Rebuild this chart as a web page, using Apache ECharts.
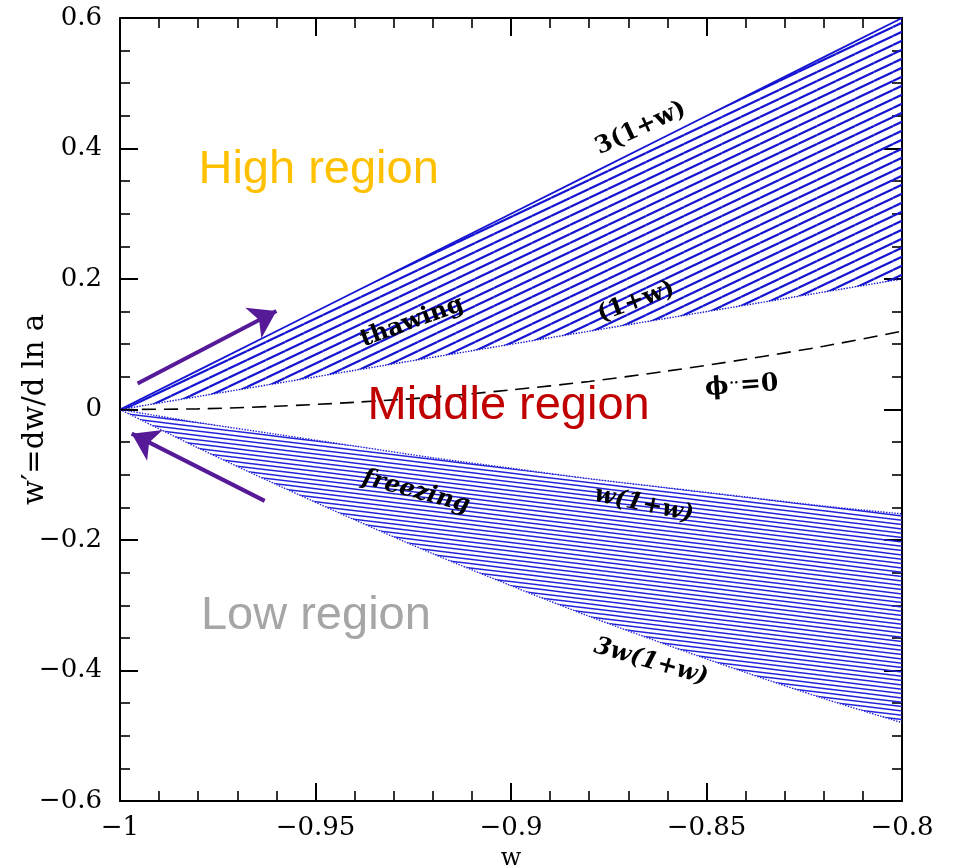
<!DOCTYPE html>
<html>
<head>
<meta charset="utf-8">
<title>Thawing and freezing regions in the w-w' plane</title>
<script src="https://cdn.jsdelivr.net/npm/echarts@6/dist/echarts.min.js"></script>
<style>
  html, body { margin: 0; padding: 0; background: #ffffff; }
  #chart { width: 960px; height: 868px; }
</style>
</head>
<body>
<div id="chart"></div>
<script>
// Sample points along the equation-of-state axis w
const wGrid = [-1, -0.98, -0.96, -0.94, -0.92, -0.90, -0.88, -0.86, -0.84, -0.82, -0.80];

// Thawing band: between (1+w) and 3(1+w)
const thawUpper = [0, 0.06, 0.12, 0.18, 0.24, 0.30, 0.36, 0.42, 0.48, 0.54, 0.60];
const thawLower = [0, 0.02, 0.04, 0.06, 0.08, 0.10, 0.12, 0.14, 0.16, 0.18, 0.20];

// Freezing band: between w(1+w) and 3w(1+w)
const freezeUpper = [0, -0.020, -0.038, -0.056, -0.074, -0.090, -0.106, -0.120, -0.134, -0.148, -0.160];
const freezeLower = [0, -0.059, -0.115, -0.169, -0.221, -0.270, -0.317, -0.361, -0.403, -0.443, -0.480];

// Zero field acceleration curve
const phiZero = [0, 0.001, 0.005, 0.011, 0.019, 0.030, 0.043, 0.059, 0.077, 0.097, 0.120];

// Tick values and their printed labels
const xTicks = [-1, -0.95, -0.9, -0.85, -0.8];
const xTickLabels = ['\u22121', '\u22120.95', '\u22120.9', '\u22120.85', '\u22120.8'];
const yTicks = [-0.6, -0.4, -0.2, 0, 0.2, 0.4, 0.6];
const yTickLabels = ['\u22120.6', '\u22120.4', '\u22120.2', '0', '0.2', '0.4', '0.6'];

// Direction arrows: [start, end] in (w, w')
const arrowUp = [[-0.9955, 0.040], [-0.9600, 0.151]];
const arrowDown = [[-0.9630, -0.140], [-0.9970, -0.037]];

// Curve labels: text, w, w', rotation
const curveLabelText = ['3(1+w)', 'thawing', '(1+w)', 'phi', 'freezing', 'w(1+w)', '3w(1+w)'];
const curveLabelW = [-0.8668, -0.9253, -0.8680, -0.8410, -0.9243, -0.8660, -0.8642];
const curveLabelY = [0.431, 0.134, 0.165, 0.036, -0.126, -0.146, -0.387];
const curveLabelRot = [25, 20, 20, 4, -15, -12, -16];
const curveLabelItalic = [false, false, false, false, true, true, true];

// Region names
const regionText = ['High region', 'Middle region', 'Low region'];
const regionW = [-0.9492, -0.9006, -0.9499];
const regionY = [0.367, 0.005, -0.316];
const regionColor = ['#FFC000', '#C00000', '#A6A6A6'];

const HATCH = '#1414D2';
const HATCH_LOW = '#2222DD';
const ARROW = '#561A98';
const SERIF = '"DejaVu Serif", "Liberation Serif", serif';

// Diagonal hatch tile; lines repeat seamlessly in both directions
function hatchTile(w, h, perTile, slopeSign, lineWidth, color) {
  const c = document.createElement('canvas');
  c.width = w; c.height = h;
  const ctx = c.getContext('2d');
  ctx.strokeStyle = color;
  ctx.lineWidth = lineWidth;
  const step = h / perTile;
  ctx.beginPath();
  for (let k = -2; k <= perTile + 2; k++) {
    const y0 = k * step;
    const y1 = y0 + slopeSign * step;
    ctx.moveTo(0, y0);
    ctx.lineTo(w, y1);
  }
  ctx.stroke();
  return { image: c, repeat: 'repeat' };
}

const thawPattern = hatchTile(19, 9, 1, -1, 2.2, HATCH);
const freezePattern = hatchTile(36, 13, 3, 1, 1.45, HATCH_LOW);

function bandSeries(upper, lower, pattern) {
  return {
    type: 'custom',
    coordinateSystem: 'cartesian2d',
    silent: true,
    z: 1,
    data: [[wGrid[0], 0]],
    renderItem: function (params, api) {
      const pts = [];
      for (let i = 0; i < wGrid.length; i++) pts.push(api.coord([wGrid[i], upper[i]]));
      for (let i = wGrid.length - 1; i >= 0; i--) pts.push(api.coord([wGrid[i], lower[i]]));
      return { type: 'polygon', shape: { points: pts }, style: { fill: pattern, stroke: null } };
    }
  };
}

function curve(values, style, smooth) {
  return {
    type: 'line',
    silent: true,
    showSymbol: false,
    symbol: 'none',
    smooth: smooth ? 0.3 : false,
    z: 3,
    data: wGrid.map((w, i) => [w, values[i]]),
    lineStyle: style
  };
}

function arrowSeries(pair) {
  return {
    type: 'line',
    silent: true,
    symbol: 'none',
    data: [],
    z: 5,
    markLine: {
      silent: true,
      animation: false,
      symbol: ['none', 'arrow'],
      symbolSize: 26,
      label: { show: false },
      lineStyle: { color: ARROW, width: 4, type: 'solid', opacity: 1 },
      data: [[{ coord: pair[0] }, { coord: pair[1] }]]
    }
  };
}

function tickFormatter(ticks, labels) {
  return function (v) {
    for (let i = 0; i < ticks.length; i++) {
      if (Math.abs(ticks[i] - v) < 1e-9) return labels[i];
    }
    return '';
  };
}

const curveLabels = curveLabelText.map((t, i) => {
  const isPhi = t === 'phi';
  return {
    value: [curveLabelW[i], curveLabelY[i]],
    label: {
      show: true,
      position: 'inside',
      rotate: curveLabelRot[i],
      formatter: isPhi ? '{p|\u03D5}{d|\u00B7\u00B7}{p|=0}' : t,
      fontFamily: SERIF,
      fontWeight: 'bold',
      fontStyle: curveLabelItalic[i] ? 'italic' : 'normal',
      fontSize: 24,
      color: '#000000',
      opacity: 1,
      rich: isPhi ? {
        p: { fontFamily: SERIF, fontWeight: 'bold', fontSize: 25, color: '#000000' },
        d: { fontFamily: SERIF, fontWeight: 'bold', fontSize: 14, color: '#000000', padding: [0, 1, 6, 1] }
      } : undefined
    }
  };
});

const regionLabels = regionText.map((t, i) => ({
  value: [regionW[i], regionY[i]],
  label: {
    show: true,
    position: 'inside',
    formatter: t,
    fontFamily: '"Liberation Sans", Arial, sans-serif',
    fontSize: 47,
    color: regionColor[i],
    opacity: 1
  }
}));

const axisLineStyle = { color: '#000000', width: 2 };
const majorTick = { show: true, inside: true, length: 18, lineStyle: { color: '#000000', width: 2 } };

function xAxisDef(pos, showLabels) {
  return {
    type: 'value', position: pos, min: -1, max: -0.8, interval: 0.05,
    axisLine: { show: true, onZero: false, lineStyle: axisLineStyle },
    axisTick: majorTick,
    minorTick: { show: true, splitNumber: 5, length: 10, lineStyle: { color: '#000000', width: 1.6 } },
    splitLine: { show: false },
    minorSplitLine: { show: false },
    axisLabel: {
      show: showLabels, margin: 14, color: '#000000', fontFamily: SERIF, fontSize: 26,
      showMinLabel: true, showMaxLabel: true,
      formatter: tickFormatter(xTicks, xTickLabels)
    },
    name: showLabels ? 'w' : '', nameLocation: 'middle', nameGap: 46,
    nameMoveOverlap: false,
    nameTextStyle: { fontFamily: SERIF, fontSize: 24, color: '#000000' }
  };
}

function yAxisDef(pos, showLabels) {
  return {
    type: 'value', position: pos, min: -0.6, max: 0.6, interval: 0.2,
    axisLine: { show: true, onZero: false, lineStyle: axisLineStyle },
    axisTick: majorTick,
    minorTick: { show: true, splitNumber: 4, length: 10, lineStyle: { color: '#000000', width: 1.6 } },
    splitLine: { show: false },
    minorSplitLine: { show: false },
    axisLabel: {
      show: showLabels, margin: 18, color: '#000000', fontFamily: SERIF, fontSize: 26,
      showMinLabel: true, showMaxLabel: true,
      formatter: tickFormatter(yTicks, yTickLabels)
    },
    name: showLabels ? 'w\u2032=dw/d ln a' : '', nameLocation: 'middle', nameGap: 70,
    nameMoveOverlap: false,
    nameRotate: 90,
    nameTextStyle: { fontFamily: SERIF, fontSize: 29, color: '#000000' }
  };
}

const chart = echarts.init(document.getElementById('chart'), null, { renderer: 'canvas' });
chart.setOption({
  animation: false,
  backgroundColor: '#ffffff',
  grid: { left: 120, right: 58, top: 18, bottom: 67, containLabel: false, outerBoundsMode: 'none' },
  xAxis: [xAxisDef('bottom', true), xAxisDef('top', false)],
  yAxis: [yAxisDef('left', true), yAxisDef('right', false)],
  series: [
    bandSeries(thawUpper, thawLower, thawPattern),
    bandSeries(freezeUpper, freezeLower, freezePattern),
    curve(thawUpper, { color: HATCH, width: 1.8, type: 'solid' }),
    curve(thawLower, { color: HATCH, width: 1.4, type: 'dotted' }),
    curve(freezeUpper, { color: HATCH_LOW, width: 1.4, type: 'dotted' }, true),
    curve(freezeLower, { color: HATCH_LOW, width: 1.4, type: 'dotted' }, true),
    curve(phiZero, { color: '#000000', width: 1.6, type: [14, 8] }, true),
    arrowSeries(arrowUp),
    arrowSeries(arrowDown),
    {
      type: 'scatter', silent: true, symbolSize: 0, z: 8,
      itemStyle: { opacity: 1 },
      data: curveLabels
    },
    {
      type: 'scatter', silent: true, symbolSize: 0, z: 9,
      itemStyle: { opacity: 1 },
      data: regionLabels
    }
  ]
});
</script>
</body>
</html>
